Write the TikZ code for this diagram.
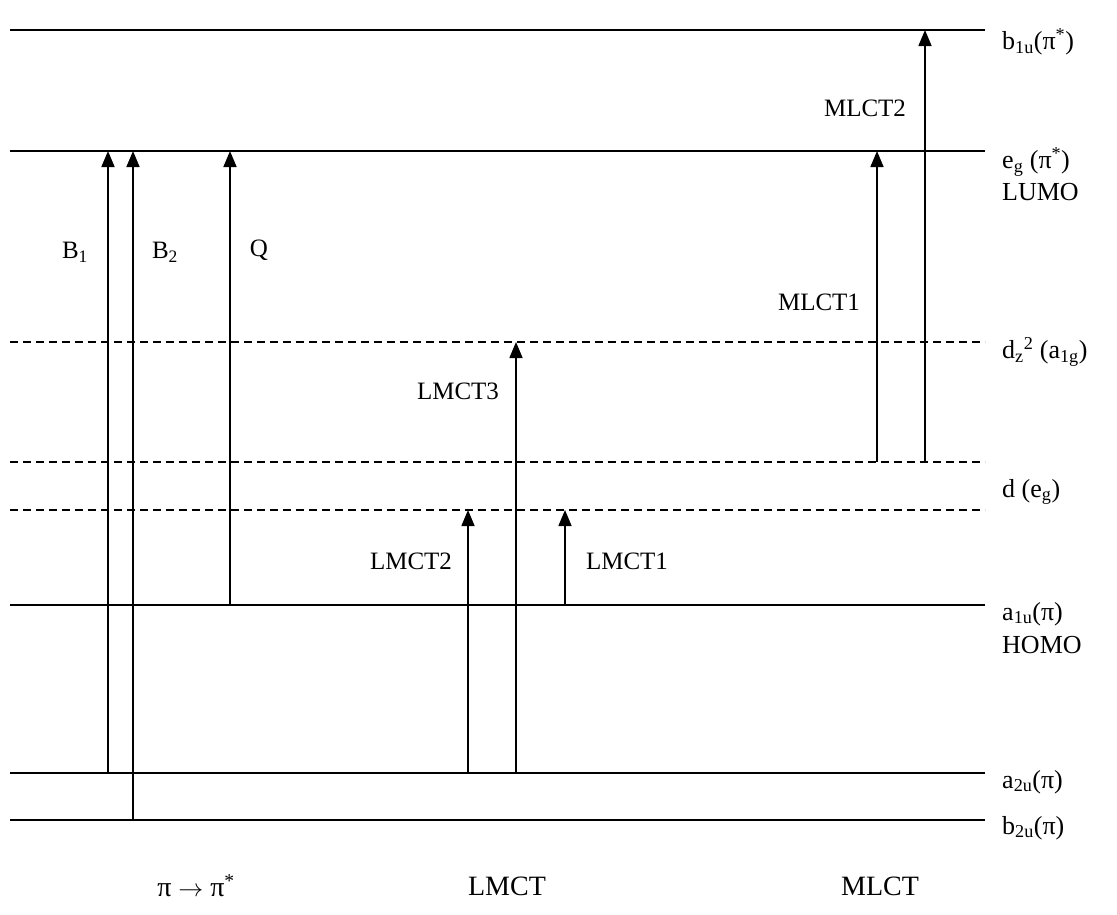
\documentclass[tikz,border=0pt]{standalone}
\usepackage{fontspec}
\setmainfont{Liberation Serif}
\usetikzlibrary{arrows.meta}
\tikzset{
  level/.style={line width=1.6pt},
  dlevel/.style={line width=1.6pt, dash pattern=on 8pt off 5pt},
  trans/.style={line width=1.6pt, -{Triangle[length=16pt,width=13pt]}},
  lbl/.style={font=\fontsize{25}{28}\selectfont, inner sep=0pt},
  rlbl/.style={font=\fontsize{26}{30}\selectfont, inner sep=0pt, anchor=west},
  blbl/.style={font=\fontsize{28}{32}\selectfont, inner sep=0pt},
}
\begin{document}
\begin{tikzpicture}[x=1pt,y=-1pt]
\useasboundingbox (0,0) rectangle (1117,914);
% levels
\coordinate (L1a) at (10,30);  \coordinate (L1b) at (985,30);
\coordinate (L2a) at (10,151); \coordinate (L2b) at (985,151);
\coordinate (L3a) at (10,342); \coordinate (L3b) at (985,342);
\coordinate (L4a) at (10,462); \coordinate (L4b) at (985,462);
\coordinate (L5a) at (10,510); \coordinate (L5b) at (985,510);
\coordinate (L6a) at (10,605); \coordinate (L6b) at (985,605);
\coordinate (L7a) at (10,773); \coordinate (L7b) at (985,773);
\coordinate (L8a) at (10,820); \coordinate (L8b) at (985,820);
\draw[level] (L1a) -- (L1b);
\draw[level] (L2a) -- (L2b);
\draw[dlevel] (L3a) -- (L3b);
\draw[dlevel] (L4a) -- (L4b);
\draw[dlevel] (L5a) -- (L5b);
\draw[level] (L6a) -- (L6b);
\draw[level] (L7a) -- (L7b);
\draw[level] (L8a) -- (L8b);
% right labels
\node[rlbl] (nb1u) at (1002,42) {b\textsubscript{1u}(π\textsuperscript{*})};
\node[rlbl] (neg) at (1002,162) {e\textsubscript{g} (π\textsuperscript{*})};
\node[rlbl] (nlumo) at (1002,192) {LUMO};
\node[rlbl] (ndz) at (1002,352) {d\textsubscript{z}\textsuperscript{2} (a\textsubscript{1g})};
\node[rlbl] (nde) at (1002,492) {d (e\textsubscript{g})};
\node[rlbl] (na1u) at (1002,614) {a\textsubscript{1u}(π)};
\node[rlbl] (nhomo) at (1002,645) {HOMO};
\node[rlbl] (na2u) at (1002,782) {a\textsubscript{2u}(π)};
\node[rlbl] (nb2u) at (1002,828) {b\textsubscript{2u}(π)};
% transitions endpoints
\coordinate (B1s) at (108,773); \coordinate (B1e) at (108,151);
\coordinate (B2s) at (133,820); \coordinate (B2e) at (133,151);
\coordinate (Qs) at (230,605);  \coordinate (Qe) at (230,151);
\coordinate (M2s) at (468,773); \coordinate (M2e) at (468,510);
\coordinate (M3s) at (516,773); \coordinate (M3e) at (516,342);
\coordinate (M1s) at (565,605); \coordinate (M1e) at (565,510);
\coordinate (C1s) at (877,462); \coordinate (C1e) at (877,151);
\coordinate (C2s) at (925,462); \coordinate (C2e) at (925,30);
\draw[trans] (B1s) -- (B1e);
\draw[trans] (B2s) -- (B2e);
\draw[trans] (Qs) -- (Qe);
\draw[trans] (M2s) -- (M2e);
\draw[trans] (M3s) -- (M3e);
\draw[trans] (M1s) -- (M1e);
\draw[trans] (C1s) -- (C1e);
\draw[trans] (C2s) -- (C2e);
% transition labels
\node[lbl] (tB1) at (75,252) {B\textsubscript{1}};
\node[lbl] (tB2) at (165,252) {B\textsubscript{2}};
\node[lbl] (tQ) at (259,250) {Q};
\node[lbl] (tM3) at (458,391) {LMCT3};
\node[lbl] (tM2) at (411,561) {LMCT2};
\node[lbl] (tM1) at (627,561) {LMCT1};
\node[lbl] (tC1) at (819,302) {MLCT1};
\node[lbl] (tC2) at (865,108) {MLCT2};
% bottom
\node[blbl] (bpi) at (196,886) {π $\rightarrow$ π\textsuperscript{*}};
\node[blbl] (blm) at (507,886) {LMCT};
\node[blbl] (bml) at (880,886) {MLCT};
\end{tikzpicture}
\end{document}
